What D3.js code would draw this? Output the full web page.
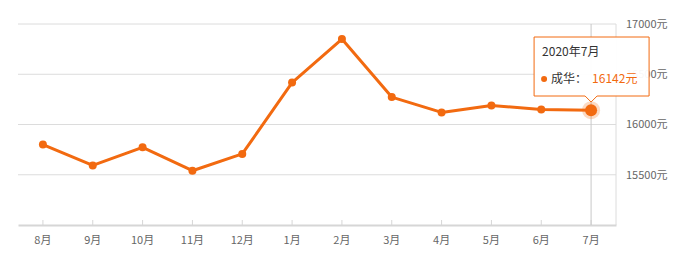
<!DOCTYPE html>
<html>
<head>
<meta charset="utf-8">
<script src="https://cdn.jsdelivr.net/npm/d3@7"></script>
<style>
body { margin: 0; background: #fff; }
svg { font-family: "Noto Sans CJK SC", "Noto Sans", sans-serif; }
</style>
</head>
<body>
<svg id="chart" width="678" height="264"></svg>
<script>
const months = ["8月", "9月", "10月", "11月", "12月", "1月", "2月", "3月", "4月", "5月", "6月", "7月"];
const prices = [15800, 15593, 15773, 15540, 15707, 16417, 16850, 16273, 16120, 16190, 16150, 16142];
const yTicks = [15500, 16000, 16500, 17000];
const tipTitle = "2020年7月";
const tipName = "成华";

const margin = {top: 24, right: 62, bottom: 39, left: 18},
width = 678 - margin.left - margin.right,
height = 264 - margin.top - margin.bottom;
const orange = "#f26a10";

const svg = d3.select("#chart").append("g").attr("transform", `translate(${margin.left},${margin.top})`);

const x = d3.scaleBand().domain(months).range([0, width]);
const y = d3.scaleLinear().domain([15000, 17000]).range([height, 0]);
const cx = d => x(d) + x.bandwidth() / 2;

// grid lines
svg.append("g").selectAll("line").data(yTicks).join("line")
    .attr("x1", 0).attr("x2", width).attr("y1", d => y(d)).attr("y2", d => y(d))
    .attr("stroke", "#dcdcdc").attr("stroke-width", 1);

// right axis line
svg.append("line").attr("x1", width).attr("x2", width).attr("y1", 0).attr("y2", height)
    .attr("stroke", "#dcdcdc");

// y labels on right
svg.append("g").selectAll("text").data(yTicks).join("text")
    .attr("x", width + 10).attr("y", d => y(d)).attr("dy", "0.35em")
    .attr("fill", "#666").attr("font-size", 11).text(d => d + "元");

// x axis
const xAxis = svg.append("g").attr("transform", `translate(0,${height})`)
    .call(d3.axisBottom(x).tickSize(5).tickPadding(6).tickSizeOuter(0));
xAxis.select(".domain").attr("stroke", "#d6d6d6").attr("stroke-width", 2);
xAxis.selectAll(".tick line").attr("stroke", "#d6d6d6").attr("transform", "translate(0,-5)");
xAxis.selectAll(".tick text").attr("fill", "#666").attr("font-size", 11)
    .attr("font-family", "'Noto Sans CJK SC', sans-serif");

// crosshair at last point
const last = months.length - 1;
svg.append("line").attr("x1", cx(months[last])).attr("x2", cx(months[last]))
    .attr("y1", 0).attr("y2", height).attr("stroke", "#c8c8c8");

// line
svg.append("path").datum(prices).attr("fill", "none").attr("stroke", orange).attr("stroke-width", 3)
    .attr("stroke-linejoin", "round")
    .attr("d", d3.line().x((d, i) => cx(months[i])).y(d => y(d)));

// points
svg.append("g").selectAll("circle").data(prices).join("circle")
    .attr("cx", (d, i) => cx(months[i])).attr("cy", d => y(d))
    .attr("r", (d, i) => i === last ? 0 : 4).attr("fill", orange);

// highlighted last point
svg.append("circle").attr("cx", cx(months[last])).attr("cy", y(prices[last]))
    .attr("r", 9).attr("fill", orange).attr("opacity", 0.25);
svg.append("circle").attr("cx", cx(months[last])).attr("cy", y(prices[last]))
    .attr("r", 6).attr("fill", orange);

// tooltip
const px = cx(months[last]), py = y(prices[last]);
const bx = px - 57, bw = 115, by = 13, bh = 59;
const tip = svg.append("g");
tip.append("path")
    .attr("d", `M${bx},${by} H${bx + bw} V${by + bh} H${px + 6} L${px},${by + bh + 6} L${px - 6},${by + bh} H${bx} Z`)
    .attr("fill", "rgba(255,255,255,0.95)").attr("stroke", orange).attr("stroke-width", 1);
tip.append("text").attr("x", bx + 8).attr("y", by + 19).attr("fill", "#333").attr("font-size", 12).text(tipTitle);
tip.append("circle").attr("cx", bx + 10).attr("cy", by + 42).attr("r", 3).attr("fill", orange);
tip.append("text").attr("x", bx + 17).attr("y", by + 46).attr("fill", "#333").attr("font-size", 12).text(tipName + "：");
tip.append("text").attr("x", bx + 58).attr("y", by + 46).attr("fill", orange).attr("font-size", 12).text(prices[last] + "元");
</script>
</body>
</html>
